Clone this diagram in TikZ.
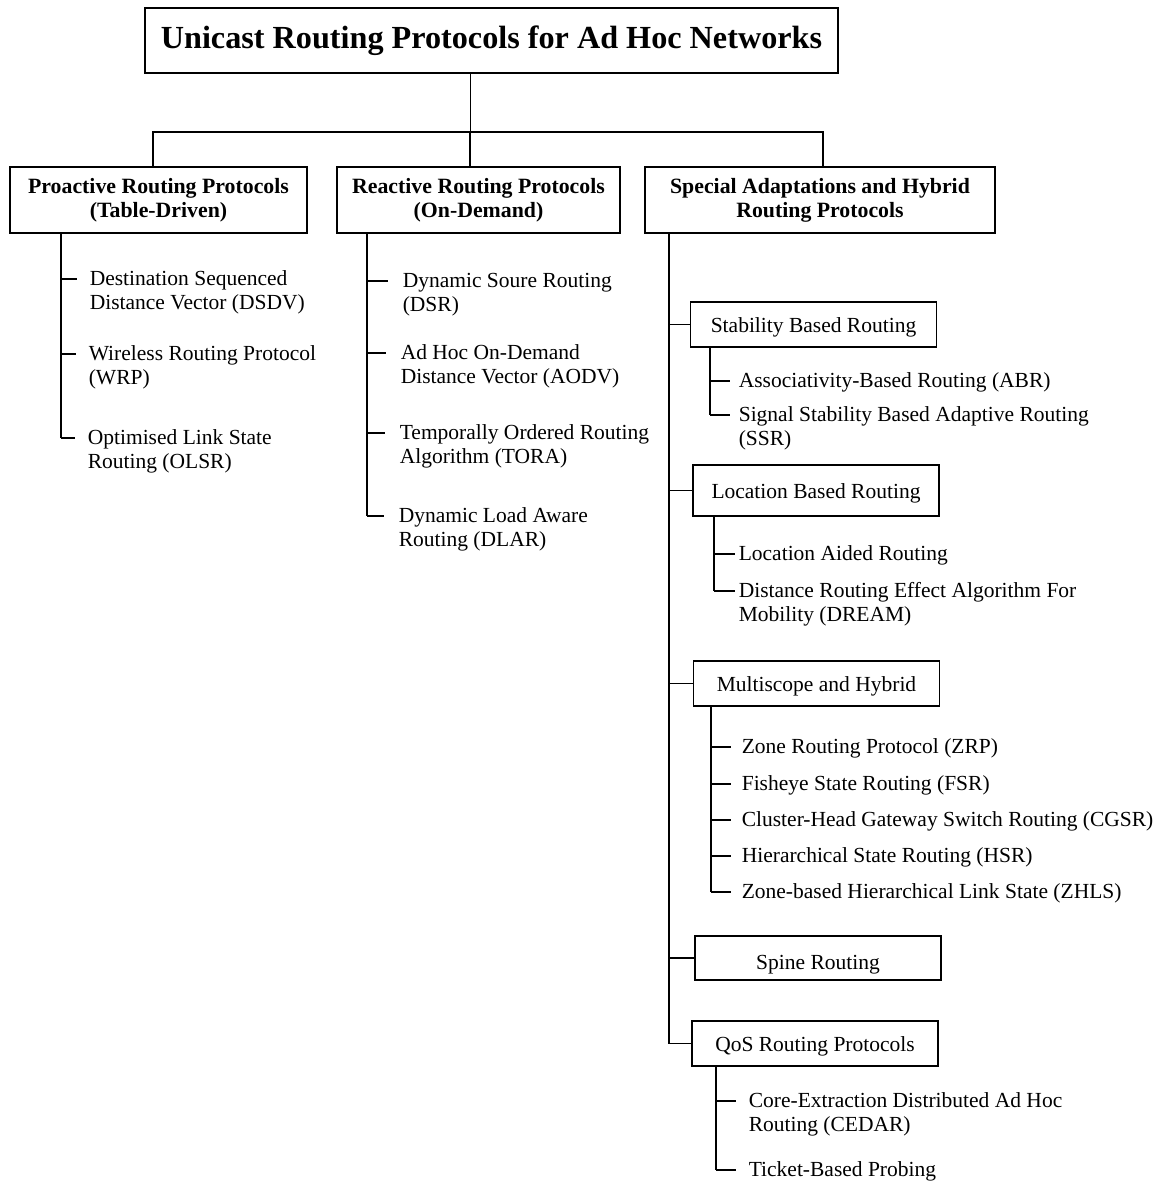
\documentclass[tikz,border=0pt]{standalone}
\usepackage{fontspec}
\setmainfont{Liberation Serif}
\newcommand\twoln[2]{\begin{tabular}[t]{@{}l@{}}#1\\#2\end{tabular}}
\begin{document}
\begin{tikzpicture}[x=1pt,y=-1pt,line width=1.6pt,
  box/.style={draw, line width=1.6pt, inner sep=0pt, font=\fontsize{21.5}{24}\selectfont},
  topbox/.style={box, minimum width=693pt, minimum height=65pt, font=\fontsize{32.2}{36}\selectfont\bfseries},
  catbox/.style={box, align=center, minimum height=66pt, font=\fontsize{21.8}{24}\selectfont\bfseries},
  subbox/.style={box, minimum width=246pt, minimum height=45pt, text height=20pt, text depth=5pt},
  leaf/.style={anchor=mid west, inner sep=0pt, font=\fontsize{21.5}{24}\selectfont,
    execute at begin node={\lower4pt\hbox\bgroup}, execute at end node={\egroup}},
]
\useasboundingbox (0,0) rectangle (1164,1187);

% root and the three families
\node[topbox] (root) at (491.5,40.5) {Unicast Routing Protocols for Ad Hoc Networks};
\node[catbox, minimum width=297pt] (pro) at (158.5,200) {Proactive Routing Protocols\\(Table-Driven)};
\node[catbox, minimum width=283pt] (rea) at (478.5,200) {Reactive Routing Protocols\\(On-Demand)};
\node[catbox, minimum width=350pt] (spe) at (820,200) {Special Adaptations and Hybrid\\Routing Protocols};

\coordinate (bj) at (470,132);
\coordinate (bl) at (153,132);
\coordinate (br) at (823,132);
\draw[line width=1pt] (bj |- root.south) -- (bj);
\draw (bl |- pro.north) -- (bl) -- (br) -- (br |- spe.north);
\draw (bj) -- (bj |- rea.north);

% proactive protocols
\node[leaf] (dsdv) at (89,279) {\twoln{Destination Sequenced}{Distance Vector (DSDV)}};
\node[leaf] (wrp) at (88,354) {\twoln{Wireless Routing Protocol}{(WRP)}};
\node[leaf] (olsr) at (87,438) {\twoln{Optimised Link State}{Routing (OLSR)}};
\coordinate (tp) at (61,0);
\draw (tp |- pro.south) -- (tp |- olsr.mid west);
\foreach \n in {dsdv,wrp,olsr}
  \draw (tp |- \n.mid west) -- ([xshift=-12pt]\n.mid west);

% reactive protocols
\node[leaf] (dsr) at (402,281) {\twoln{Dynamic Soure Routing}{(DSR)}};
\node[leaf] (aodv) at (400,353) {\twoln{Ad Hoc On-Demand}{Distance Vector (AODV)}};
\node[leaf] (tora) at (399,433) {\twoln{Temporally Ordered Routing}{Algorithm (TORA)}};
\node[leaf] (dlar) at (398,516) {\twoln{Dynamic Load Aware}{Routing (DLAR)}};
\coordinate (tr) at (367,0);
\draw (tr |- rea.south) -- (tr |- dlar.mid west);
\foreach \n in {dsr,aodv,tora,dlar}
  \draw (tr |- \n.mid west) -- ([xshift=-14pt]\n.mid west);

% special adaptations and hybrid protocols
\node[subbox] (stab) at (813.5,324.5) {Stability Based Routing};
\node[subbox, minimum height=51pt] (loc) at (816,490.5) {Location Based Routing};
\node[subbox] (multi) at (816.5,683.5) {Multiscope and Hybrid};
\node[subbox, minimum height=44pt, text height=28pt] (spine) at (818,958) {Spine Routing};
\node[subbox] (qos) at (815,1043.5) {QoS Routing Protocols};
\coordinate (ts) at (669,0);
\draw (ts |- spe.south) -- (ts |- qos.west);
\foreach \n in {stab,loc,multi,spine,qos}
  \draw (ts |- \n.west) -- (\n.west);

% stability based
\node[leaf] (abr) at (738,381) {Associativity-Based Routing (ABR)};
\node[leaf] (ssr) at (738,415) {\twoln{Signal Stability Based Adaptive Routing}{(SSR)}};
\coordinate (t1) at (710,0);
\draw (t1 |- stab.south) -- (t1 |- ssr.mid west);
\foreach \n in {abr,ssr}
  \draw (t1 |- \n.mid west) -- ([xshift=-8pt]\n.mid west);

% location based
\node[leaf] (lar) at (738,554) {Location Aided Routing};
\node[leaf] (dream) at (738,591) {\twoln{Distance Routing Effect Algorithm For}{Mobility (DREAM)}};
\coordinate (t2) at (714,0);
\draw (t2 |- loc.south) -- (t2 |- dream.mid west);
\foreach \n in {lar,dream}
  \draw (t2 |- \n.mid west) -- ([xshift=-3pt]\n.mid west);

% multiscope and hybrid
\node[leaf] (zrp) at (741,747) {Zone Routing Protocol (ZRP)};
\node[leaf] (fsr) at (741,784) {Fisheye State Routing (FSR)};
\node[leaf] (cgsr) at (741,820) {Cluster-Head Gateway Switch Routing (CGSR)};
\node[leaf] (hsr) at (741,856) {Hierarchical State Routing (HSR)};
\node[leaf] (zhls) at (741,892) {Zone-based Hierarchical Link State (ZHLS)};
\coordinate (t3) at (711,0);
\draw (t3 |- multi.south) -- (t3 |- zhls.mid west);
\foreach \n in {zrp,fsr,cgsr,hsr,zhls}
  \draw (t3 |- \n.mid west) -- ([xshift=-10pt]\n.mid west);

% QoS routing
\node[leaf] (cedar) at (748,1101) {\twoln{Core-Extraction Distributed Ad Hoc}{Routing (CEDAR)}};
\node[leaf] (ticket) at (748,1170) {Ticket-Based Probing};
\coordinate (t5) at (716,0);
\draw (t5 |- qos.south) -- (t5 |- ticket.mid west);
\foreach \n in {cedar,ticket}
  \draw (t5 |- \n.mid west) -- ([xshift=-12pt]\n.mid west);
\end{tikzpicture}
\end{document}
